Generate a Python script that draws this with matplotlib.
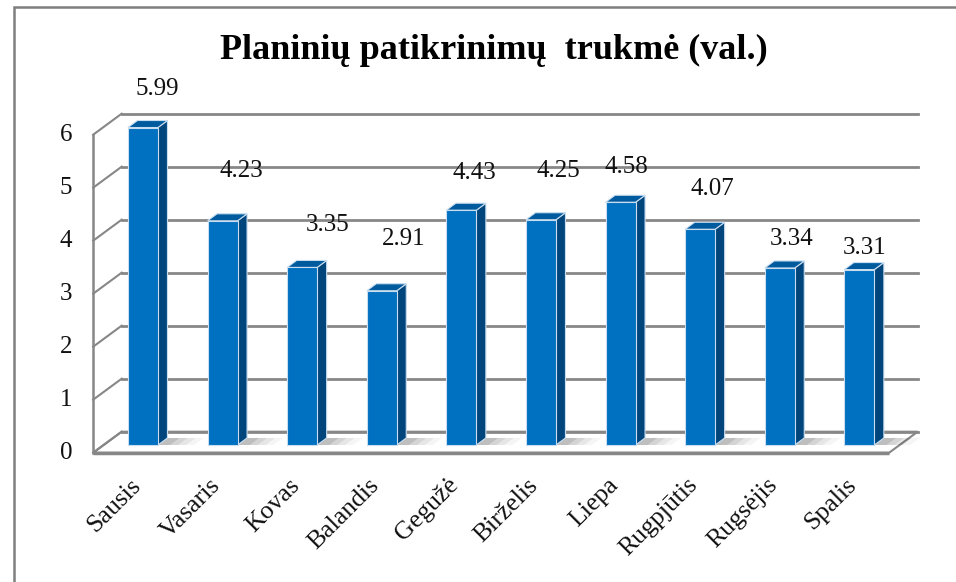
import matplotlib.pyplot as plt
from matplotlib.patches import Polygon, Rectangle
import numpy as np

# data
months = ['Sausis', 'Vasaris', 'Kovas', 'Balandis', 'Gegužė',
          'Birželis', 'Liepa', 'Rugpjūtis', 'Rugsėjis', 'Spalis']
hours = [5.99, 4.23, 3.35, 2.91, 4.43, 4.25, 4.58, 4.07, 3.34, 3.31]
yticks = [0, 1, 2, 3, 4, 5, 6]

# label offsets (pixels) from the top centre of each bar
label_dx = [14, 19, 25, 22, 13, 17, 6, 12, 12, 5]
label_dy = [39, 50, 42, 52, 37, 49, 35, 40, 29, 22]

FRONT = '#0070C0'
SIDE = '#00467D'
TOP = '#005A9E'
EDGE = '#C9DDF0'
GRID = '#878787'

serif = 'Liberation Serif'

fig = plt.figure(figsize=(9.56, 5.82), dpi=100)
ax = fig.add_axes([0, 0, 1, 1])
ax.set_xlim(-1.796, 10.214)
ax.set_ylim(-2.585, 8.396)
ax.axis('off')

# 3d offsets (data units) relative to the bar front plane
px_x = 1 / 79.6
px_y = 1 / 53.0
fdx, fdy = -10 * px_x, -7.7 * px_y      # front of the box
bdx, bdy = 18.5 * px_x, 13.3 * px_y     # back wall
sdx, sdy = 9.5 * px_x, 7 * px_y         # bar depth
bw = 30 * px_x
x0, x1 = -0.5, 9.5
ytop = yticks[-1]

# floor
floor = Polygon([(x0 + fdx, fdy), (x1 + fdx, fdy), (x1 + bdx, bdy), (x0 + bdx, bdy)],
                closed=True, facecolor='white', edgecolor=GRID, lw=1.5, zorder=1)
ax.add_patch(floor)
ax.plot([x0 + fdx, x1 + fdx], [fdy, fdy], color=GRID, lw=2.5, zorder=2,
        solid_capstyle='butt')

# back wall gridlines + left wall diagonals
for v in yticks:
    ax.plot([x0 + bdx, x1 + bdx], [v + bdy, v + bdy], color=GRID, lw=2, zorder=1)
    ax.plot([x0 + fdx, x0 + bdx], [v + fdy, v + bdy], color=GRID, lw=1.5, zorder=1)
ax.plot([x0 + fdx, x0 + fdx], [fdy, ytop + fdy], color=GRID, lw=1.8, zorder=2)

# tick labels
for v in yticks:
    ax.text(x0 + fdx - 21 * px_x, v + fdy, str(v), ha='right', va='center',
            fontsize=18, family=serif, color='#111111')

# bars
xs = np.arange(len(months))
for x, h in zip(xs, hours):
    left = x - bw / 2
    right = x + bw / 2
    # floor shadow
    for k, a in enumerate([0.10, 0.08, 0.06, 0.04]):
        w = (12 + 8 * k) * px_x
        ax.add_patch(Polygon([(right, 0), (right + w, 0),
                              (right + sdx + w, sdy), (right + sdx, sdy)],
                             closed=True, facecolor='black', alpha=a, lw=0, zorder=2))
    ax.add_patch(Polygon([(right, 0), (right + sdx, sdy), (right + sdx, h + sdy), (right, h)],
                         closed=True, facecolor=SIDE, edgecolor=EDGE, lw=0.8, zorder=3))
    ax.add_patch(Polygon([(left, h), (right, h), (right + sdx, h + sdy), (left + sdx, h + sdy)],
                         closed=True, facecolor=TOP, edgecolor=EDGE, lw=0.8, zorder=3))
ax.bar(xs, hours, width=bw, color=FRONT, edgecolor=EDGE, linewidth=0.8, zorder=4)

# value labels
for x, h, dx, dy in zip(xs, hours, label_dx, label_dy):
    ax.annotate(f'{h:.2f}', (x, h), xytext=(dx, dy), textcoords='offset pixels',
                ha='center', va='center', fontsize=18, family=serif, color='#111111')

# category labels
for x, m in zip(xs, months):
    ax.text(x - 6 * px_x, -37 * px_y, m, rotation=45, rotation_mode='anchor',
            ha='right', va='center', fontsize=18.5, family=serif, color='#111111')

# title
fig.text(494 / 956, 1 - 50 / 582, 'Planinių patikrinimų  trukmė (val.)',
         ha='center', va='center', fontsize=26, fontweight='bold', family=serif)

# chart frame
fig.add_artist(Rectangle((14 / 956, -0.1), 1.2, 1 - 7 / 582 + 0.1,
                         transform=fig.transFigure, fill=False,
                         edgecolor='#7F7F7F', lw=1.8))

fig.savefig('out.png', dpi=100)
